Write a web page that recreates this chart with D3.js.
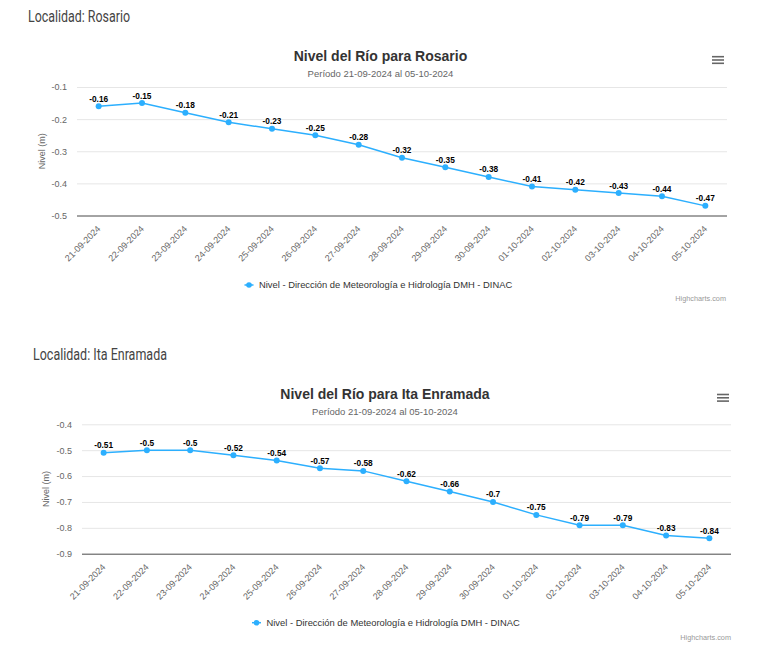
<!DOCTYPE html>
<html>
<head>
<meta charset="utf-8">
<script src="https://cdn.jsdelivr.net/npm/d3@7"></script>
<style>
  html, body { margin: 0; padding: 0; background: #fff; }
  svg { display: block; }
  text { font-family: "Liberation Sans", Arial, Helvetica, sans-serif; }
</style>
</head>
<body>
<svg id="chart" width="770" height="654"></svg>
<script>
// ---------- DATA ----------
const dates = ["21-09-2024","22-09-2024","23-09-2024","24-09-2024","25-09-2024","26-09-2024","27-09-2024","28-09-2024","29-09-2024","30-09-2024","01-10-2024","02-10-2024","03-10-2024","04-10-2024","05-10-2024"];
const rosarioValues = [-0.16,-0.15,-0.18,-0.21,-0.23,-0.25,-0.28,-0.32,-0.35,-0.38,-0.41,-0.42,-0.43,-0.44,-0.47];
const itaValues = [-0.51,-0.5,-0.5,-0.52,-0.54,-0.57,-0.58,-0.62,-0.66,-0.7,-0.75,-0.79,-0.79,-0.83,-0.84];
const rosarioTicks = [-0.1,-0.2,-0.3,-0.4,-0.5];
const itaTicks = [-0.4,-0.5,-0.6,-0.7,-0.8,-0.9];
const seriesName = "Nivel - Dirección de Meteorología e Hidrología DMH - DINAC";
const subtitleText = "Período 21-09-2024 al 05-10-2024";
const yAxisTitle = "Nivel (m)";
const creditText = "Highcharts.com";

const svg = d3.select("#chart");
const COLOR = "#2caffe";

function drawChart(cfg) {
  const g = svg.append("g");
  // Localidad header
  g.append("text").attr("x", cfg.locX).attr("y", cfg.locY)
    .attr("font-size", 16)
    .attr("fill", "#444").attr("textLength", cfg.locW).attr("lengthAdjust", "spacingAndGlyphs")
    .style("font-family", "Roboto, sans-serif")
    .text(cfg.locality);

  // Title & subtitle
  g.append("text").attr("x", cfg.cx).attr("y", cfg.titleY).attr("text-anchor", "middle")
    .attr("font-size", 14).attr("font-weight", "bold").attr("fill", "#333").text(cfg.title);
  g.append("text").attr("x", cfg.cx).attr("y", cfg.titleY + 15.5).attr("text-anchor", "middle")
    .attr("font-size", 9.5).attr("fill", "#666").text(subtitleText);

  // Hamburger menu
  [0, 3.3, 6.6].forEach(dy => {
    g.append("line").attr("x1", cfg.menuX).attr("x2", cfg.menuX + 12)
      .attr("y1", cfg.menuY + dy).attr("y2", cfg.menuY + dy)
      .attr("stroke", "#666").attr("stroke-width", 1.6);
  });

  const x = d3.scalePoint().domain(dates).range([cfg.left, cfg.right]).padding(0.5);
  const y = d3.scaleLinear().domain(cfg.domain).range([cfg.bottom, cfg.top]);

  // Gridlines + y labels
  const yAxis = d3.axisLeft(y).tickValues(cfg.ticks).tickSize(-(cfg.right - cfg.left))
    .tickPadding(cfg.left - cfg.labelEnd).tickFormat(d => String(+d.toFixed(1)));
  const ya = g.append("g").attr("transform", `translate(${cfg.left},0)`).call(yAxis);
  ya.select(".domain").remove();
  ya.selectAll(".tick line").attr("stroke", "#e6e6e6");
  ya.selectAll(".tick text").attr("font-size", 9).attr("fill", "#666")
    .style("font-family", "Liberation Sans, Arial, sans-serif");

  // X axis
  const xAxis = d3.axisBottom(x).tickSize(0).tickPadding(0);
  const xa = g.append("g").attr("transform", `translate(0,${cfg.bottom})`).call(xAxis);
  xa.select(".domain").attr("d", `M${cfg.left},0.5H${cfg.right}`).attr("stroke", "#555");
  xa.selectAll(".tick text")
    .attr("font-size", 9).attr("fill", "#666")
    .style("font-family", "Liberation Sans, Arial, sans-serif")
    .attr("text-anchor", "end").attr("dy", null).attr("y", 0)
    .attr("transform", "translate(2,14) rotate(-45)");

  // Y axis title
  g.append("text").attr("transform", `translate(${cfg.axisTitleX},${(cfg.top + cfg.bottom) / 2}) rotate(-90)`)
    .attr("text-anchor", "middle").attr("font-size", 9).attr("fill", "#666").text(yAxisTitle);

  // Line
  const data = dates.map((d, i) => ({ d, v: cfg.values[i] }));
  const line = d3.line().x(p => x(p.d)).y(p => y(p.v));
  g.append("path").datum(data).attr("d", line).attr("fill", "none")
    .attr("stroke", COLOR).attr("stroke-width", 1.5);
  g.selectAll("circle.pt").data(data).join("circle").attr("class", "pt")
    .attr("cx", p => x(p.d)).attr("cy", p => y(p.v)).attr("r", 3).attr("fill", COLOR);

  // Data labels
  g.selectAll("text.dl").data(data).join("text").attr("class", "dl")
    .attr("x", p => x(p.d)).attr("y", p => y(p.v) - 4.5).attr("text-anchor", "middle")
    .attr("font-size", 8.3).attr("font-weight", "bold").attr("fill", "#000")
    .attr("stroke", "#fff").attr("stroke-width", 2).attr("paint-order", "stroke")
    .attr("stroke-linejoin", "round")
    .text(p => String(p.v));

  // Legend
  g.append("line").attr("x1", cfg.legX - 4.5).attr("x2", cfg.legX + 4.5)
    .attr("y1", cfg.legY).attr("y2", cfg.legY).attr("stroke", COLOR).attr("stroke-width", 1.5);
  g.append("circle").attr("cx", cfg.legX).attr("cy", cfg.legY).attr("r", 2.8).attr("fill", COLOR);
  g.append("text").attr("x", cfg.legX + 10).attr("y", cfg.legY + 3.3)
    .attr("font-size", 9.4).attr("fill", "#333").text(seriesName);

  // Credits
  g.append("text").attr("x", cfg.creditX).attr("y", cfg.creditY).attr("text-anchor", "end")
    .attr("font-size", 7.3).attr("fill", "#999").text(creditText);
}

drawChart({
  locality: "Localidad: Rosario", locX: 28, locY: 21.5, locW: 102,
  title: "Nivel del Río para Rosario", cx: 380.5, titleY: 61,
  menuX: 712, menuY: 56.7,
  left: 77, right: 727, top: 87, bottom: 215.5, domain: [-0.5, -0.1], ticks: rosarioTicks,
  labelEnd: 67, axisTitleX: 44.5, values: rosarioValues,
  legX: 249, legY: 285, creditX: 726, creditY: 301
});

drawChart({
  locality: "Localidad: Ita Enramada", locX: 33, locY: 359.5, locW: 134,
  title: "Nivel del Río para Ita Enramada", cx: 385, titleY: 399,
  menuX: 717, menuY: 394.5,
  left: 82, right: 731, top: 424.3, bottom: 553.7, domain: [-0.9, -0.4], ticks: itaTicks,
  labelEnd: 72, axisTitleX: 48.5, values: itaValues,
  legX: 256.5, legY: 622.7, creditX: 731, creditY: 639.5
});
</script>
</body>
</html>
